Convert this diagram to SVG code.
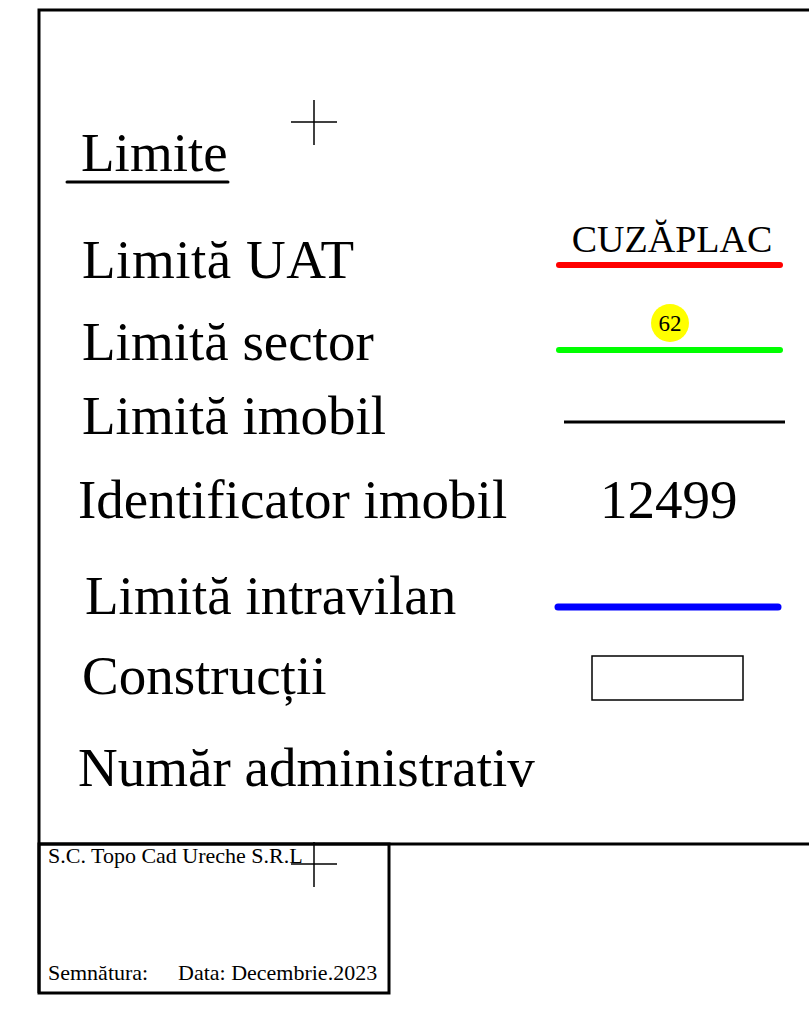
<svg xmlns="http://www.w3.org/2000/svg" width="809" height="1019" viewBox="0 0 809 1019">
<style>
.lbl{font-family:"Liberation Serif","Times New Roman",serif;font-size:55px;fill:#000}
.sm{font-family:"Liberation Serif","Times New Roman",serif;font-size:22px;fill:#000}
.frame{fill:none;stroke:#000;stroke-width:3}
.cross{stroke:#000;stroke-width:1.5}
</style>
<rect width="809" height="1019" fill="#fff"/>
<g id="frame">
<path class="frame" d="M39 993 V10 H812"/>
<line class="frame" x1="39" y1="844" x2="812" y2="844"/>
<rect class="frame" x="39" y="844" width="350" height="149"/>
</g>
<g id="crosses">
<line class="cross" x1="314" y1="100" x2="314" y2="145"/>
<line class="cross" x1="291" y1="122" x2="337" y2="122"/>
<line class="cross" x1="314" y1="842" x2="314" y2="887"/>
<line class="cross" x1="291" y1="864" x2="337" y2="864"/>
</g>
<g id="title">
<text class="lbl" x="81" y="171">Limite</text>
<line x1="67" y1="182" x2="228" y2="182" stroke="#000" stroke-width="3" stroke-linecap="round"/>
</g>
<g id="uat">
<text class="lbl" x="82" y="278" textLength="272">Limită UAT</text>
<text x="672" y="252" text-anchor="middle" font-family="Liberation Serif, serif" font-size="38">CUZĂPLAC</text>
<line x1="559" y1="265" x2="780" y2="265" stroke="#ff0000" stroke-width="6" stroke-linecap="round"/>
</g>
<g id="sector">
<text class="lbl" x="82" y="360">Limită sector</text>
<circle cx="670" cy="323" r="19" fill="#ffff00"/>
<text x="670" y="331" text-anchor="middle" font-family="Liberation Serif, serif" font-size="23">62</text>
<line x1="559" y1="350" x2="780" y2="350" stroke="#00ff00" stroke-width="6" stroke-linecap="round"/>
</g>
<g id="imobil">
<text class="lbl" x="82" y="434">Limită imobil</text>
<line x1="564" y1="422" x2="785" y2="422" stroke="#000" stroke-width="3"/>
</g>
<g id="identificator">
<text class="lbl" x="78" y="518">Identificator imobil</text>
<text class="lbl" x="600" y="518">12499</text>
</g>
<g id="intravilan">
<text class="lbl" x="85" y="614">Limită intravilan</text>
<line x1="558" y1="607" x2="778" y2="607" stroke="#0000ff" stroke-width="7" stroke-linecap="round"/>
</g>
<g id="constructii">
<text class="lbl" x="82" y="694">Construcții</text>
<rect x="592" y="656" width="151" height="44" fill="none" stroke="#000" stroke-width="1.5"/>
</g>
<g id="numar">
<text class="lbl" x="78" y="786">Număr administrativ</text>
</g>
<g id="cartus">
<text class="sm" x="48" y="863">S.C. Topo Cad Ureche S.R.L</text>
<text class="sm" x="48" y="980">Semnătura:</text>
<text class="sm" x="178" y="980">Data: Decembrie.2023</text>
</g>
</svg>
